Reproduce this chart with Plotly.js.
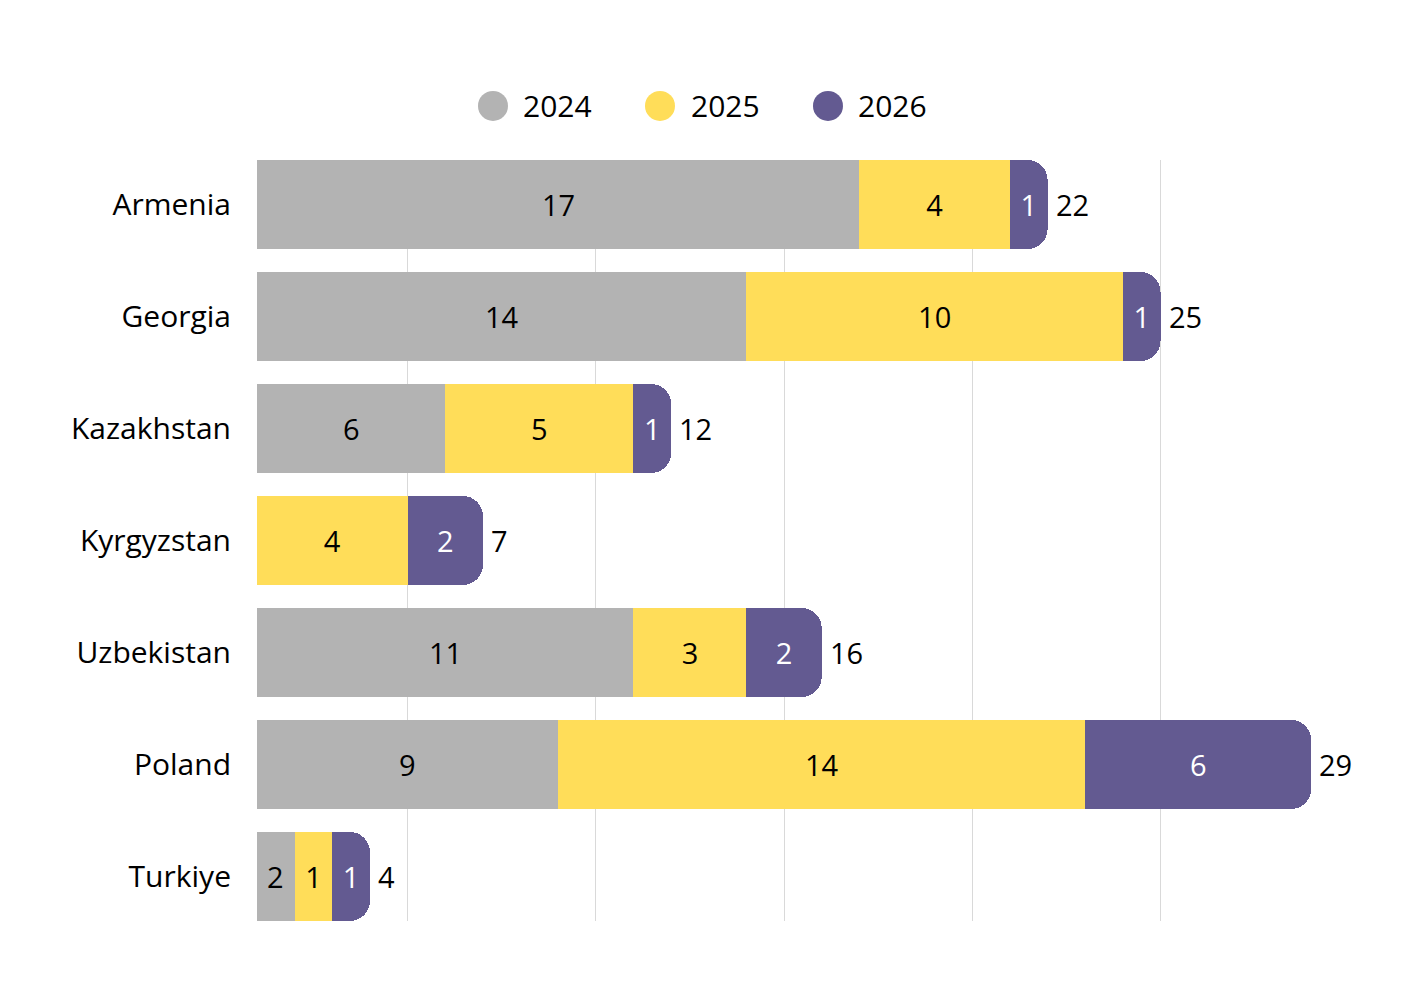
<!DOCTYPE html>
<html><head><meta charset="utf-8">
<script src="https://cdn.plot.ly/plotly-3.0.1.min.js"></script>
<style>html,body{margin:0;padding:0;background:#fff}#chart{width:1428px;height:998px}</style>
</head><body><div id="chart"></div>
<script>
const countries = ['Armenia','Georgia','Kazakhstan','Kyrgyzstan','Uzbekistan','Poland','Turkiye'];
const years = ['2024','2025','2026'];
const v2024 = [17,14,6,1,11,9,2];
const v2025 = [4,10,5,4,3,14,1];
const v2026 = [1,1,1,2,2,6,1];
const colors = ['#b3b3b3','#ffdd59','#635a91'];
const textColors = ['#000000','#000000','#ffffff'];
const totals = countries.map((c,i)=>v2024[i]+v2025[i]+v2026[i]);

const XMIN = 1;      // value axis starts at 1
const XMAX = 29.9;
const series = [v2024, v2025, v2026];
const FONT = 'Open Sans, sans-serif';

const traces = series.map((vals, k) => ({
  type: 'bar',
  orientation: 'h',
  name: years[k],
  y: countries,
  x: vals,
  text: vals.map(String),
  textposition: k === 0 ? 'none' : 'inside',
  insidetextanchor: 'middle',
  textangle: 0,
  insidetextfont: {family: FONT, size: 29, color: textColors[k]},
  marker: {color: colors[k], line: {width: 0}},
  hoverinfo: 'x+name',
  showlegend: false
}));

// labels of the first segment, centred on its visible part (axis starts at XMIN)
const firstLabels = countries.map((c, i) => v2024[i] > XMIN ? {
  x: (XMIN + v2024[i]) / 2, y: c, xref: 'x', yref: 'y',
  xanchor: 'center', yanchor: 'middle', showarrow: false,
  text: String(v2024[i]), font: {family: FONT, size: 29, color: textColors[0]}
} : null).filter(Boolean);

// totals at the end of each stack
const totalLabels = countries.map((c, i) => ({
  x: totals[i], y: c, xref: 'x', yref: 'y',
  xanchor: 'left', yanchor: 'middle', showarrow: false, xshift: 6,
  text: String(totals[i]), font: {family: FONT, size: 29, color: '#000000'}
}));

// custom legend (circles + labels)
const legendCx = [0.2169, 0.3704, 0.5248];
const legendTx = [0.2426, 0.3970, 0.5505];
const legendY = 1.071;
const shapes = years.map((y, k) => ({
  type: 'circle', xref: 'paper', yref: 'paper',
  xsizemode: 'pixel', ysizemode: 'pixel',
  xanchor: legendCx[k], yanchor: legendY,
  x0: -15, x1: 15, y0: -15, y1: 15,
  fillcolor: colors[k], line: {width: 0}
}));
const legendLabels = years.map((y, k) => ({
  xref: 'paper', yref: 'paper', x: legendTx[k], y: legendY,
  xanchor: 'left', yanchor: 'middle', showarrow: false,
  text: y, font: {family: FONT, size: 30, color: '#000000'}
}));

const GAP = 0.205;
const layout = {
  width: 1428, height: 998,
  paper_bgcolor: '#ffffff', plot_bgcolor: '#ffffff',
  margin: {l: 257, r: 83, t: 160, b: 77},
  barmode: 'stack',
  bargap: GAP,
  barcornerradius: 20,
  font: {family: FONT, size: 29, color: '#000000'},
  showlegend: false,
  xaxis: {
    range: [XMIN, XMAX], dtick: 5, tick0: 0,
    showgrid: true, gridcolor: '#d9d9d9', gridwidth: 1,
    zeroline: false, showticklabels: false, showline: false, ticks: ''
  },
  yaxis: {
    categoryorder: 'array', categoryarray: countries,
    range: [countries.length - 0.5 - GAP / 2, -0.5 + GAP / 2],
    showgrid: false, zeroline: false, showline: false, ticks: '',
    ticklabelstandoff: 25,
    tickfont: {family: FONT, size: 30, color: '#000000'}
  },
  shapes: shapes,
  annotations: legendLabels.concat(firstLabels, totalLabels)
};

Plotly.newPlot('chart', traces, layout, {displayModeBar: false});
</script>
</body></html>
